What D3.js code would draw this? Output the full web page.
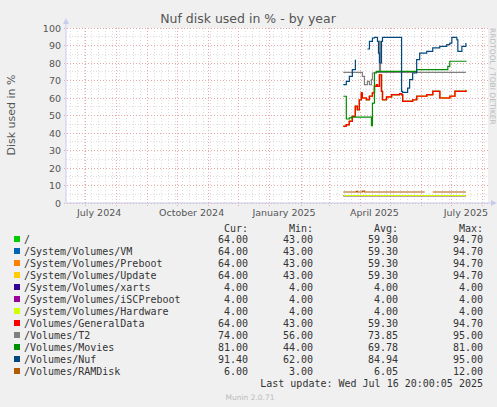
<!DOCTYPE html>
<html><head><meta charset="utf-8">
<script src="https://cdn.jsdelivr.net/npm/d3@7"></script>
<style>body{margin:0;background:#F0F0F0}svg{display:block}</style>
</head><body><svg id="c" width="497" height="407"></svg>
<script>
const title = "Nuf disk used in % - by year";
const yLabel = "Disk used in %";
const yTicks = [0,10,20,30,40,50,60,70,80,90,100];
const xLabels = [["2024-07-01","July 2024"],["2024-10-01","October 2024"],["2025-01-01","January 2025"],["2025-04-01","April 2025"],["2025-07-01","July 2025"]];
const generalData = [["2025-03-15",43.8],["2025-03-18",44.8],["2025-03-21",46.7],["2025-03-24",49.5],["2025-03-27",55.2],["2025-03-29",53.3],["2025-03-31",59],["2025-04-02",62.9],["2025-04-03",60],["2025-04-07",59],["2025-04-10",61],["2025-04-13",62.9],["2025-04-15",66.7],["2025-04-17",67.6],["2025-04-18",66.7],["2025-04-20",73.3],["2025-04-22",63.8],["2025-04-23",59],["2025-04-27",60.6],["2025-05-02",61.9],["2025-05-10",62.5],["2025-05-12",61.9],["2025-05-13",58.1],["2025-05-17",58.1],["2025-05-23",59],["2025-05-27",61],["2025-06-06",61.9],["2025-06-12",63.8],["2025-06-17",63.8],["2025-06-19",60],["2025-06-22",60],["2025-06-29",61],["2025-07-04",63.8],["2025-07-11",63.8],["2025-07-15",64.4]];
const t2 = [["2025-03-15",74.7],["2025-03-31",74.7],["2025-04-03",72.4],["2025-04-05",67.6],["2025-04-08",69.5],["2025-04-10",67.6],["2025-04-12",70.5],["2025-04-13",74.3],["2025-04-15",74.7],["2025-04-19",74.7],["2025-04-20",92.4],["2025-04-21",74.7],["2025-07-15",74.7]];
const movies = [["2025-03-15",61],["2025-03-18",48],["2025-03-21",48.6],["2025-03-23",49.1],["2025-04-10",49.1],["2025-04-12",44.2],["2025-04-13",57.1],["2025-04-15",74.3],["2025-04-17",75.2],["2025-05-23",75.2],["2025-05-27",76.2],["2025-06-27",78.1],["2025-06-29",81],["2025-07-15",81.3]];
const nuf = [["2025-03-15",67.6],["2025-03-18",69.5],["2025-03-21",72.4],["2025-03-24",76.2],["2025-03-27",81.9],["2025-03-28",null],["2025-04-08",88],["2025-04-10",92.4],["2025-04-13",94.3],["2025-04-15",94.7],["2025-04-17",94.7],["2025-04-18",92.4],["2025-04-19",85.7],["2025-04-20",80],["2025-04-22",92.4],["2025-04-23",94.7],["2025-05-10",94.7],["2025-05-12",63.8],["2025-05-13",63.2],["2025-05-18",65.7],["2025-05-20",70.5],["2025-05-23",74.3],["2025-05-27",81.9],["2025-05-30",85.7],["2025-06-06",86.7],["2025-06-12",88.6],["2025-06-19",89.5],["2025-06-26",90.5],["2025-06-29",91.4],["2025-07-01",94.7],["2025-07-04",94.7],["2025-07-06",93.3],["2025-07-07",86.7],["2025-07-11",89.5],["2025-07-15",91.4]];
const ramdisk = [["2025-03-15",6.3],["2025-03-27",6.3],["2025-03-28",6.6],["2025-03-29",6.3],["2025-04-02",6.3],["2025-04-03",6.8],["2025-04-05",6.3],["2025-06-04",6.3],["2025-06-05",null],["2025-06-12",6.3],["2025-07-15",6.3]];
const small = [["2025-03-15",4.2],["2025-07-15",4.2]];
const names = ["/","/System/Volumes/VM","/System/Volumes/Preboot","/System/Volumes/Update","/System/Volumes/xarts","/System/Volumes/iSCPreboot","/System/Volumes/Hardware","/Volumes/GeneralData","/Volumes/T2","/Volumes/Movies","/Volumes/Nuf","/Volumes/RAMDisk"];
const colors = ["#00CC00","#0066B3","#FF8000","#FFCC00","#330099","#990099","#CCFF00","#FF0000","#808080","#008F00","#00487D","#B35A00"];
const seriesData = [generalData,generalData,generalData,generalData,small,small,small,generalData,t2,movies,nuf,ramdisk];
const curV = ["64.00","64.00","64.00","64.00","4.00","4.00","4.00","64.00","74.00","81.00","91.40","6.00"];
const minV = ["43.00","43.00","43.00","43.00","4.00","4.00","4.00","43.00","56.00","44.00","62.00","3.00"];
const avgV = ["59.30","59.30","59.30","59.30","4.00","4.00","4.00","59.30","73.85","69.78","84.94","6.05"];
const maxV = ["94.70","94.70","94.70","94.70","4.00","4.00","4.00","94.70","95.00","81.00","95.00","12.00"];

const svg = d3.select("#c");
const pd = d3.timeParse("%Y-%m-%d");
const L=66,R=488,T=28,B=203;
const x = d3.scaleTime().domain([pd("2024-06-12"),pd("2025-08-06")]).range([L,R]);
const y = d3.scaleLinear().domain([0,100]).range([B,T]);
svg.append("rect").attr("x",L).attr("y",T).attr("width",R-L).attr("height",B-T).attr("fill","#fff");
const g = svg.append("g");
x.ticks(d3.timeWeek.every(1)).forEach(d=>g.append("line").attr("x1",x(d)).attr("x2",x(d)).attr("y1",T).attr("y2",B).attr("stroke","#ddd").attr("stroke-dasharray","1,2").attr("shape-rendering","crispEdges"));
d3.range(5,100,10).forEach(v=>g.append("line").attr("x1",L).attr("x2",R).attr("y1",y(v)).attr("y2",y(v)).attr("stroke","#ddd").attr("stroke-dasharray","1,2").attr("shape-rendering","crispEdges"));
x.ticks(d3.timeMonth.every(1)).forEach(d=>g.append("line").attr("x1",x(d)).attr("x2",x(d)).attr("y1",T).attr("y2",B+3).attr("stroke","#eaa8a8").attr("stroke-dasharray","1,2").attr("shape-rendering","crispEdges"));
yTicks.forEach(v=>g.append("line").attr("x1",L-2).attr("x2",R).attr("y1",y(v)).attr("y2",y(v)).attr("stroke","#eaa8a8").attr("stroke-dasharray","1,2").attr("shape-rendering","crispEdges"));
const line = d3.line().defined(d=>d[1]!==null).x(d=>x(pd(d[0]))).y(d=>y(d[1])).curve(d3.curveStepAfter);
seriesData.forEach((s,i)=>svg.append("path").datum(s).attr("d",line).attr("fill","none").attr("stroke",colors[i]).attr("stroke-width",1.2));
svg.append("line").attr("x1",L).attr("x2",R+4).attr("y1",B).attr("y2",B).attr("stroke","#c8cdf0");
svg.append("line").attr("x1",L).attr("x2",L).attr("y1",B).attr("y2",T-6).attr("stroke","#c8cdf0");
svg.append("path").attr("d",`M${R+3},${B-3}L${R+9},${B}L${R+3},${B+3}Z`).attr("fill","#c8cdf0");
svg.append("path").attr("d",`M${L-3},${T-4}L${L},${T-10}L${L+3},${T-4}Z`).attr("fill","#c8cdf0");
const tf = "DejaVu Sans, sans-serif";
yTicks.forEach(v=>svg.append("text").attr("x",L-5).attr("y",y(v)+3.5).attr("text-anchor","end").attr("font-family",tf).attr("font-size",9.5).attr("fill","#555").text(v));
xLabels.forEach(([d,t])=>{const d0=pd(d);const mid=new Date(d0.getTime()+14*864e5);svg.append("text").attr("x",x(mid)).attr("y",B+13).attr("text-anchor","middle").attr("font-family",tf).attr("font-size",9.5).attr("fill","#555").text(t);});
svg.append("text").attr("x",248).attr("y",23).attr("text-anchor","middle").attr("font-family",tf).attr("font-size",12.5).attr("fill","#555").text(title);
svg.append("text").attr("transform","translate(15,115) rotate(-90)").attr("text-anchor","middle").attr("font-family",tf).attr("font-size",11).attr("fill","#555").text(yLabel);
svg.append("text").attr("transform","translate(490,28) rotate(90)").attr("font-family",tf).attr("font-size",7.5).attr("fill","#bbb").text("RRDTOOL / TOBI OETIKER");
const mf = "DejaVu Sans Mono, monospace";
const hdr=[["Cur:",248],["Min:",313],["Avg:",398],["Max:",483]];
hdr.forEach(([t,xx])=>svg.append("text").attr("x",xx).attr("y",232).attr("text-anchor","end").attr("font-family",mf).attr("font-size",10).attr("fill","#333").text(t));
names.forEach((n,i)=>{const yy=243+i*12;
 svg.append("rect").attr("x",14).attr("y",yy-7).attr("width",6).attr("height",6).attr("fill",colors[i]);
 svg.append("text").attr("x",24).attr("y",yy).attr("font-family",mf).attr("font-size",10).attr("fill","#333").text(n);
 [curV,minV,avgV,maxV].forEach((arr,j)=>svg.append("text").attr("x",hdr[j][1]).attr("y",yy).attr("text-anchor","end").attr("font-family",mf).attr("font-size",10).attr("fill","#333").text(arr[i]));
});
svg.append("text").attr("x",483).attr("y",387).attr("text-anchor","end").attr("font-family",mf).attr("font-size",10).attr("fill","#333").text("Last update: Wed Jul 16 20:00:05 2025");
svg.append("text").attr("x",250).attr("y",400).attr("text-anchor","middle").attr("font-family",tf).attr("font-size",7.5).attr("fill","#bbb").text("Munin 2.0.71");
</script></body></html>
